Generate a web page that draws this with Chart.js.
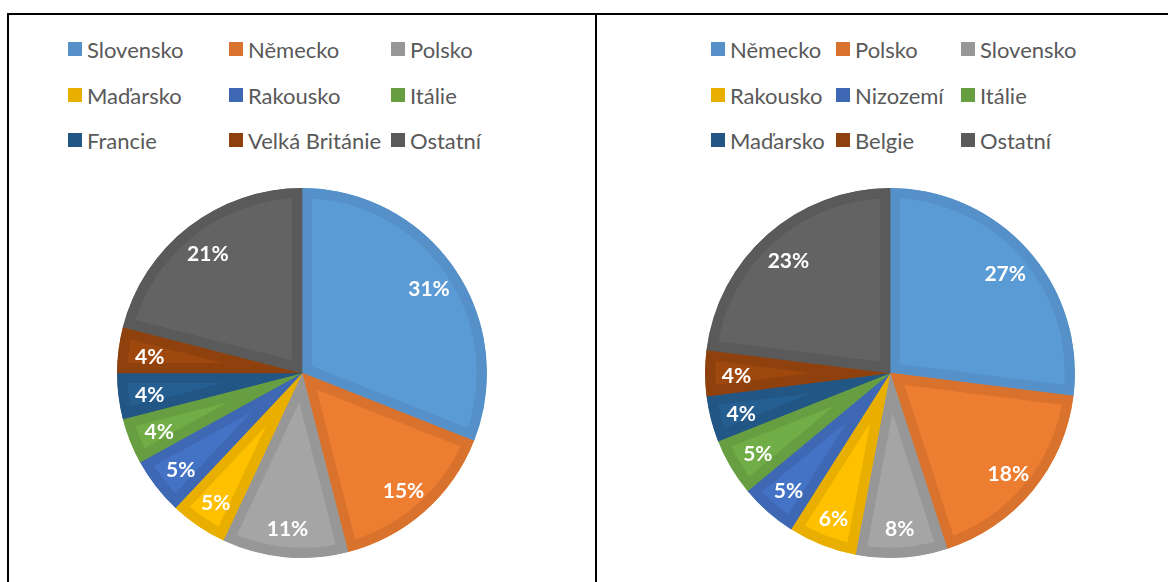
<!DOCTYPE html>
<html>
<head>
<meta charset="utf-8">
<script src="https://cdn.jsdelivr.net/npm/chart.js@4.4.1/dist/chart.umd.min.js"></script>
<style>
  html, body { margin: 0; padding: 0; background: #fff; }
  body { width: 1168px; height: 582px; position: relative; overflow: hidden; font-family: Lato, "Liberation Sans", sans-serif; }
  .line { position: absolute; background: #000; }
  .pie { position: absolute; width: 380px; height: 380px; }
  .leg { position: absolute; display: flex; align-items: center; height: 20px; color: #595959; font-size: 22px; white-space: nowrap; }
  .leg .sw { width: 14px; height: 14px; margin-right: 5px; flex: none; }
</style>
</head>
<body>
<div class="line" style="left:7px;top:13px;width:1161px;height:2px;"></div>
<div class="line" style="left:7px;top:13px;width:2px;height:569px;"></div>
<div class="line" style="left:595px;top:13px;width:2px;height:569px;"></div>
<div class="pie" style="left:112px;top:183px;"><canvas id="c1" width="380" height="380"></canvas></div>
<div class="pie" style="left:700px;top:183px;"><canvas id="c2" width="380" height="380"></canvas></div>
<div id="legends"></div>
<script>
const leftLabels = ['Slovensko', 'Německo', 'Polsko', 'Maďarsko', 'Rakousko', 'Itálie', 'Francie', 'Velká Británie', 'Ostatní'];
const leftValues = [31, 15, 11, 5, 5, 4, 4, 4, 21];
const rightLabels = ['Německo', 'Polsko', 'Slovensko', 'Rakousko', 'Nizozemí', 'Itálie', 'Maďarsko', 'Belgie', 'Ostatní'];
const rightValues = [27, 18, 8, 6, 5, 5, 4, 4, 23];

const fillColors = ['#5B9BD5', '#ED7D31', '#A5A5A5', '#FFC000', '#4472C4', '#70AD47', '#255E91', '#9E480E', '#636363'];
const bandColors = ['#5590C9', '#D9722D', '#979797', '#E9AF00', '#3E68B4', '#669E41', '#225685', '#8F410D', '#5A5A5A'];

const pctLabelPlugin = {
  id: 'pctLabels',
  afterDatasetsDraw(chart) {
    const ctx = chart.ctx;
    const meta = chart.getDatasetMeta(0);
    const vals = chart.data.datasets[0].data;
    const total = vals.reduce((a, b) => a + b, 0);
    ctx.save();
    ctx.fillStyle = '#ffffff';
    ctx.font = 'bold 21px Lato, "Liberation Sans", sans-serif';
    ctx.textAlign = 'center';
    ctx.textBaseline = 'middle';
    meta.data.forEach((arc, i) => {
      const p = arc.getProps(['x', 'y', 'startAngle', 'endAngle', 'outerRadius'], true);
      const mid = (p.startAngle + p.endAngle) / 2;
      const r = p.outerRadius * 0.83;
      const txt = Math.round(vals[i] / total * 100) + '%';
      ctx.fillText(txt, p.x + Math.cos(mid) * r, p.y + Math.sin(mid) * r + 3);
    });
    ctx.restore();
  }
};

function makePie(id, labels, values) {
  new Chart(document.getElementById(id), {
    type: 'pie',
    data: {
      labels: labels,
      datasets: [{
        data: values,
        backgroundColor: fillColors,
        borderColor: bandColors,
        borderWidth: 10,
        borderAlign: 'inner'
      }]
    },
    options: {
      responsive: false,
      animation: false,
      events: [],
      layout: { padding: 5 },
      plugins: { legend: { display: false }, tooltip: { enabled: false } }
    },
    plugins: [pctLabelPlugin]
  });
}
makePie('c1', leftLabels, leftValues);
makePie('c2', rightLabels, rightValues);

function makeLegend(labels, colXs, rowYs) {
  const host = document.getElementById('legends');
  labels.forEach((lab, i) => {
    const d = document.createElement('div');
    d.className = 'leg';
    d.style.left = colXs[i % 3] + 'px';
    d.style.top = rowYs[Math.floor(i / 3)] + 'px';
    const sw = document.createElement('span');
    sw.className = 'sw';
    sw.style.background = bandColors[i];
    const t = document.createElement('span');
    t.textContent = lab;
    d.appendChild(sw);
    d.appendChild(t);
    host.appendChild(d);
  });
}
makeLegend(leftLabels, [68, 229, 391], [39, 85, 130]);
makeLegend(rightLabels, [711, 836, 961], [39, 85, 130]);
</script>
</body>
</html>
